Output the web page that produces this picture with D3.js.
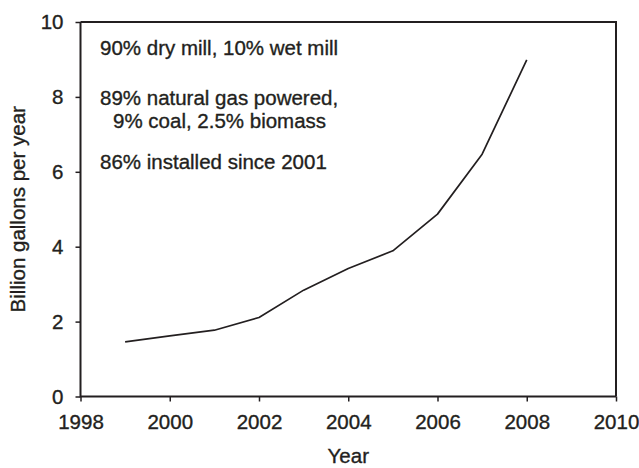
<!DOCTYPE html>
<html>
<head>
<meta charset="utf-8">
<script src="https://cdn.jsdelivr.net/npm/d3@7"></script>
<style>
body { margin:0; background:#fff; }
svg { font-family: "Liberation Sans", Arial, sans-serif; }
</style>
</head>
<body>
<svg id="chart"></svg>
<script>
// data
var years = [1999, 2000, 2001, 2002, 2003, 2004, 2005, 2006, 2007, 2008];
var capacity = [1.46, 1.62, 1.77, 2.11, 2.84, 3.42, 3.89, 4.87, 6.47, 8.99];
var xTicks = [1998, 2000, 2002, 2004, 2006, 2008, 2010];
var yTicks = [0, 2, 4, 6, 8, 10];
var notes = [
    {text:"90% dry mill, 10% wet mill", indent:0, baseline:55},
    {text:"89% natural gas powered,", indent:0, baseline:105},
    {text:"9% coal, 2.5% biomass", indent:13, baseline:128},
    {text:"86% installed since 2001", indent:0, baseline:169}
];

var ink = "#231f20";

// text in the picture is a touch heavier than plain Liberation Sans
var styleText = function(sel)
{
    sel.attr("fill",ink)
        .attr("stroke",ink)
        .attr("stroke-width",0.35)
        .style("font-size","20.5px")
        .style("font-family","'Liberation Sans', Arial, sans-serif");
};

var initGraph = function(target)
{
    var screen = {width:639, height:468};
    var margins = {top:22, bottom:71.5, left:80.5, right:23};
    var graph =
    {
        width:screen.width-margins.left-margins.right,
        height:screen.height-margins.top-margins.bottom
    };

    var svg = d3.select(target)
        .attr("width",screen.width)
        .attr("height",screen.height);

    var xScale = d3.scaleLinear()
        .domain([1998,2010])
        .range([0,graph.width]);
    var yScale = d3.scaleLinear()
        .domain([0,10])
        .range([graph.height,0]);

    var g = svg.append("g")
        .attr("transform","translate("+margins.left+","+margins.top+")");

    // top and right border of the box
    g.append("path")
        .attr("d","M0,0H"+graph.width+"V"+graph.height)
        .attr("fill","none")
        .attr("stroke",ink)
        .attr("stroke-width",2);

    // axes
    var xAxis = d3.axisBottom(xScale)
        .tickValues(xTicks)
        .tickFormat(d3.format("d"))
        .tickSize(5)
        .tickPadding(13);
    var yAxis = d3.axisLeft(yScale)
        .tickValues(yTicks)
        .tickSize(5)
        .tickPadding(12);

    var xg = g.append("g")
        .attr("transform","translate(0,"+graph.height+")")
        .call(xAxis);
    var yg = g.append("g")
        .call(yAxis);

    [xg,yg].forEach(function(ax)
    {
        ax.select(".domain").remove();
        ax.selectAll("line").attr("stroke",ink).attr("stroke-width",1.5);
        ax.selectAll("text").call(styleText);
    });

    // the left and bottom lines
    g.append("path")
        .attr("d","M0,0V"+graph.height+"H"+graph.width)
        .attr("fill","none")
        .attr("stroke",ink)
        .attr("stroke-width",2);

    // the capacity line
    var line = d3.line()
        .x(function(d,i){ return xScale(years[i]); })
        .y(function(d){ return yScale(d); });

    g.append("path")
        .datum(capacity)
        .attr("d",line)
        .attr("fill","none")
        .attr("stroke",ink)
        .attr("stroke-width",1.7)
        .attr("stroke-linejoin","round");

    // the notes in the upper left
    svg.selectAll(".note")
        .data(notes)
        .enter()
        .append("text")
        .classed("note",true)
        .attr("x",function(n){ return 100+n.indent; })
        .attr("y",function(n){ return n.baseline; })
        .call(styleText)
        .text(function(n){ return n.text; });

    // axis titles
    svg.append("text")
        .attr("x",margins.left+graph.width/2)
        .attr("y",463)
        .attr("text-anchor","middle")
        .call(styleText)
        .text("Year");

    svg.append("text")
        .attr("transform","translate(25,"+(margins.top+graph.height/2)+") rotate(-90)")
        .attr("text-anchor","middle")
        .call(styleText)
        .text("Billion gallons per year");
};

initGraph("#chart");
</script>
</body>
</html>
